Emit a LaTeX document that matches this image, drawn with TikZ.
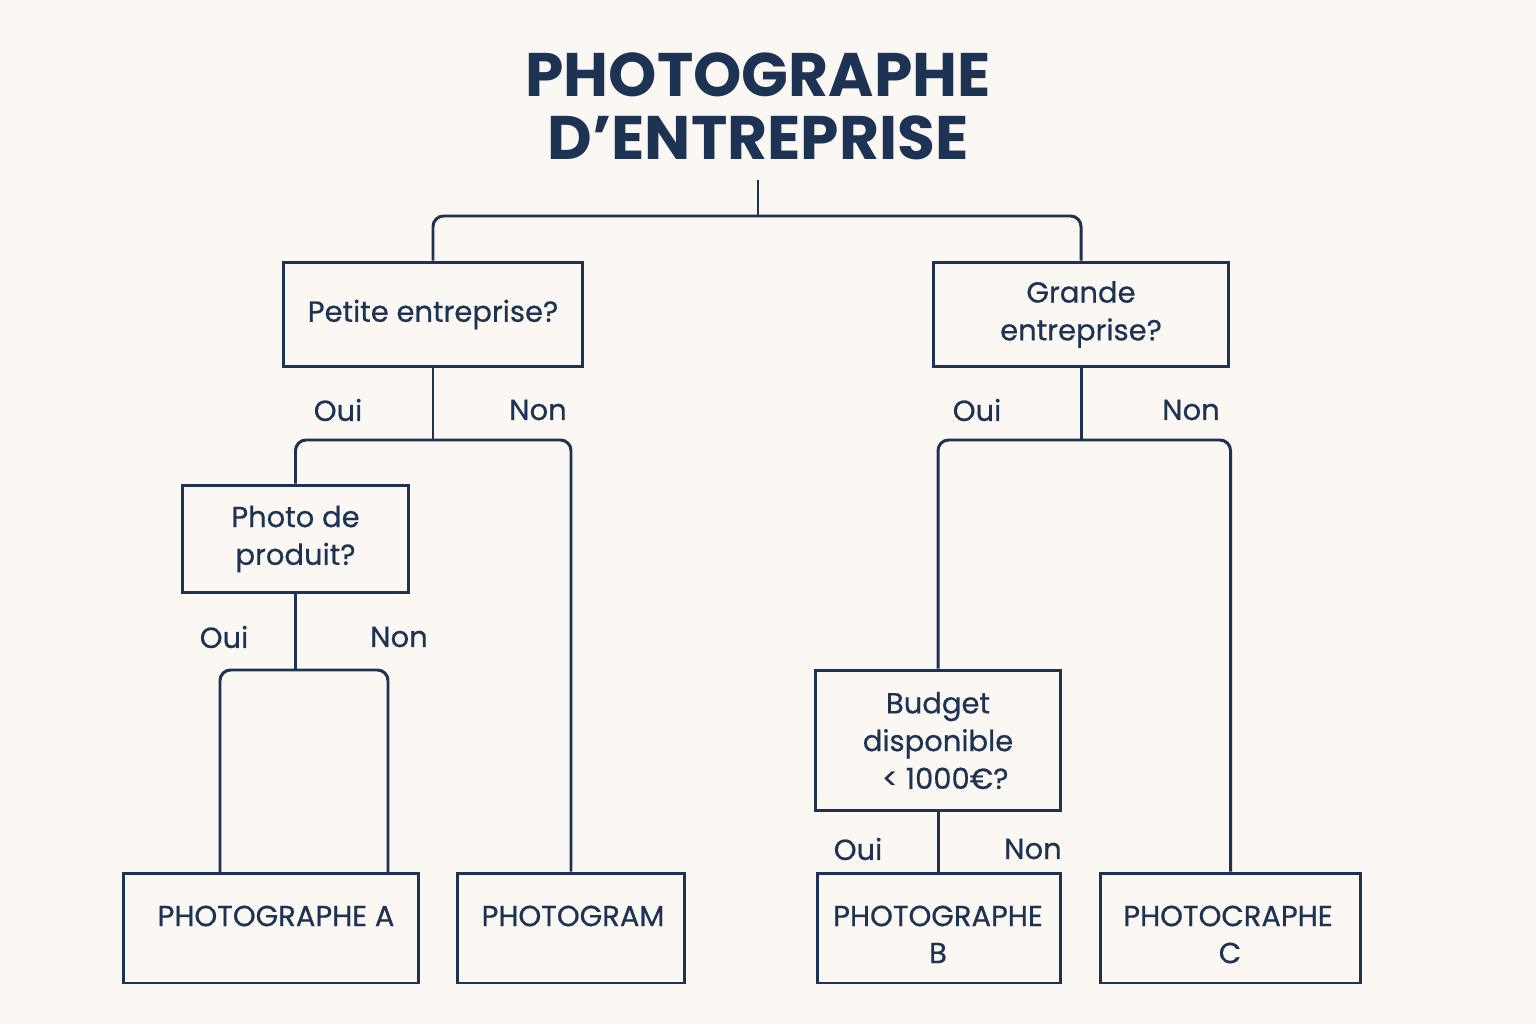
\documentclass[tikz,border=0pt]{standalone}
\usepackage{fontspec}
\setmainfont{Poppins}
\newfontfamily\bodyf[FakeBold=0.6]{Poppins}
\definecolor{bg}{HTML}{FBF8F3}
\definecolor{ink}{HTML}{1D3354}
\begin{document}
\begin{tikzpicture}[x=0.02cm,y=-0.02cm,
  box/.style={draw=ink,line width=1.7pt,inner sep=0pt,align=center,text=ink,font=\bodyf\fontsize{16.5}{21.5}\selectfont},
  txt/.style={text=ink,font=\bodyf\fontsize{16.5}{21}\selectfont,inner sep=0pt,align=center},
  lbl/.style={text=ink,font=\bodyf\fontsize{16.5}{20}\selectfont,inner sep=0pt},
  con/.style={draw=ink,line width=1.7pt,rounded corners=6pt}]
\fill[bg] (0,0) rectangle (1536,1024);
\useasboundingbox (0,0) rectangle (1536,1024);
\node[text=ink,font=\fontsize{35}{36}\selectfont\bfseries,inner sep=0pt] (t1) at (758,75) {PHOTOGRAPHE};
\node[text=ink,font=\fontsize{35}{36}\selectfont\bfseries,inner sep=0pt] (t2) at (758,138) {D’ENTREPRISE};
\coordinate (t) at (758,180);
\coordinate (j1) at (758,216);
\coordinate (j2) at (433,440);
\coordinate (j3) at (295.5,670);
\coordinate (j4) at (1081,440);
\coordinate (aL) at (220,873);
\coordinate (aR) at (388,873);
\node[box,minimum width=6cm,minimum height=2.1cm] (b1) at (433,314.5) {Petite entreprise?};
\node[box,minimum width=5.92cm,minimum height=2.1cm] (b2) at (1081,314.5) {Grande\\entreprise?};
\node[box,minimum width=4.54cm,minimum height=2.16cm] (b3) at (295.5,539) {Photo de\\produit?};
\node[box,minimum width=4.92cm,minimum height=2.82cm] (bud) at (938,740.5) {Budget\\disponible\\\,\,\,< 1000€?};
\node[box,minimum width=5.92cm,minimum height=2.2cm] (A) at (271,928) {};
\node[box,minimum width=4.56cm,minimum height=2.2cm] (G) at (571,928) {};
\node[box,minimum width=4.88cm,minimum height=2.2cm] (B) at (939,928) {};
\node[box,minimum width=5.22cm,minimum height=2.2cm] (C) at (1230.5,928) {};
\node[txt] (At) at (276,916) {PHOTOGRAPHE A};
\node[txt] (Gt) at (573,916) {PHOTOGRAM};
\node[txt] (Bt) at (938,916) {PHOTOGRAPHE};
\node[txt] (Bt2) at (938,953) {B};
\node[txt] (Ct) at (1228,916) {PHOTOCRAPHE};
\node[txt] (Ct2) at (1230,953) {C};
\node[lbl] (o1) at (338,410) {Oui};
\node[lbl] (n1) at (538,410) {Non};
\node[lbl] (o2) at (977,410) {Oui};
\node[lbl] (n2) at (1191,410) {Non};
\node[lbl] (o3) at (224,637) {Oui};
\node[lbl] (n3) at (399,637) {Non};
\node[lbl] (o4) at (858,849) {Oui};
\node[lbl] (n4) at (1033,849) {Non};
\draw[con] (t) -- (j1);
\draw[con] (b1.north) |- (j1) -| (b2.north);
\draw[con] (b1.south) -- (j2);
\draw[con] (b3.north) |- (j2) -| (G.north);
\draw[con] (b3.south) -- (j3);
\draw[con] (aL) |- (j3) -| (aR);
\draw[con] (b2.south) -- (j4);
\draw[con] (bud.north) |- (j4) -| (C.north);
\draw[con] (bud.south) -- (bud.south |- B.north);
\end{tikzpicture}
\end{document}
